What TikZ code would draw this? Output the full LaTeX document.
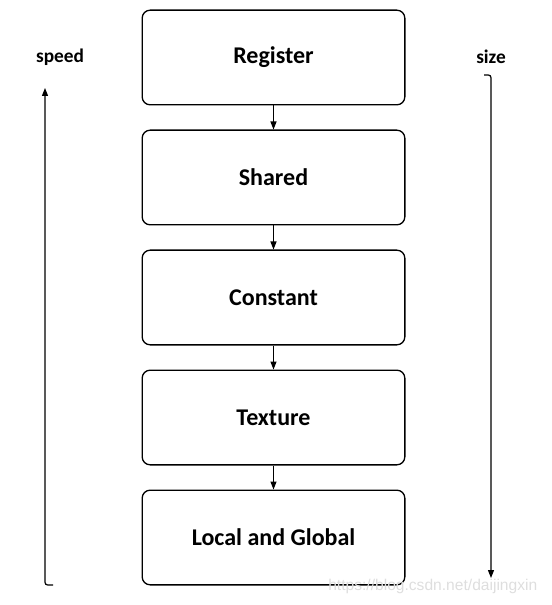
\documentclass[tikz,border=0pt]{standalone}
\usepackage{fontspec}
\setmainfont{Carlito}
\newfontfamily\markfont{Liberation Sans}
\usetikzlibrary{positioning,arrows.meta}

\begin{document}
\begin{tikzpicture}[x=0.75pt, y=-0.75pt,
	memory/.style={draw, line width=1pt, rounded corners=6pt, minimum width=197pt, minimum height=71pt, font=\bfseries\fontsize{18}{20}\selectfont},
	flow/.style={-{Triangle[length=6pt, width=4.5pt]}, line width=0.9pt},
	axislabel/.style={font=\bfseries\fontsize{14.5}{16}\selectfont}]
	\useasboundingbox (0,0) rectangle (551,605);
	\node[memory] (reg) at (273.5,57.5) {Register};
	\node[memory, below=18pt of reg] (shared) {Shared};
	\node[memory, below=18pt of shared] (const) {Constant};
	\node[memory, below=18pt of const] (tex) {Texture};
	\node[memory, below=18pt of tex] (global) {Local and Global};
	\draw[flow] (reg) -- (shared);
	\draw[flow] (shared) -- (const);
	\draw[flow] (const) -- (tex);
	\draw[flow] (tex) -- (global);
	% speed grows upwards, size grows downwards
	\node[axislabel] (speed) at (60,57) {speed};
	\node[axislabel] (size) at (491,57) {size};
	\coordinate (speedfoot) at (53,585);
	\coordinate (speedtop) at (45,88);
	\coordinate (sizehead) at (484,75);
	\coordinate (sizeend) at (491,578);
	\draw[flow, rounded corners=2pt] (speedfoot) -| (speedtop);
	\draw[flow, rounded corners=2pt] (sizehead) -| (sizeend);
	\node[font=\markfont\fontsize{11.7}{14}\selectfont, text=black!13, anchor=east] (mark) at (542,586) {https://blog.csdn.net/daijingxin};
\end{tikzpicture}
\end{document}
